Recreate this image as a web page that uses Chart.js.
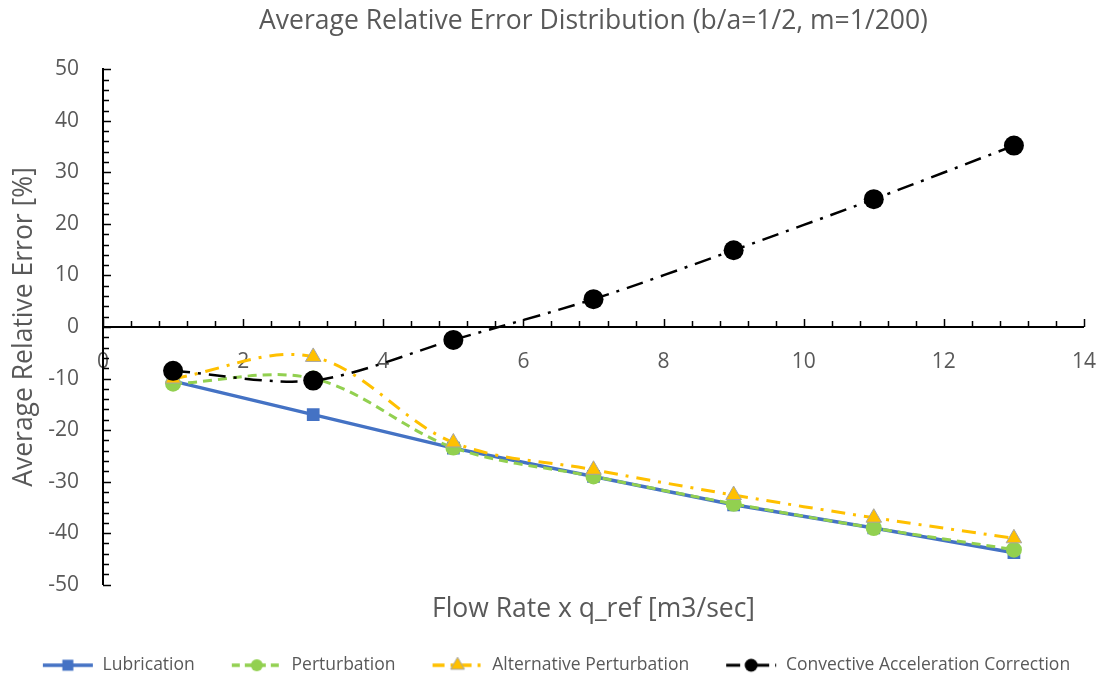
<!DOCTYPE html>
<html>
<head>
<meta charset="utf-8">
<script src="https://cdn.jsdelivr.net/npm/chart.js@4.4.1/dist/chart.umd.min.js"></script>
<style>
  html, body { margin: 0; padding: 0; background: #fff; }
  #chart { display: block; }
</style>
</head>
<body>
<canvas id="chart" width="1118" height="682"></canvas>
<script>
const flowRates = [1, 3, 5, 7, 9, 11, 13];
const lubrication = [-10.5, -17, -23.5, -29, -34.5, -39, -43.8];
const perturbation = [-11, -10, -23.4, -29, -34.3, -39, -43.2];
const altPerturbation = [-10, -5.8, -22.4, -27.7, -32.6, -37, -41];
const convective = [-8.5, -10.4, -2.5, 5.4, 14.9, 24.8, 35.2];

const xTicks = [0, 2, 4, 6, 8, 10, 12, 14];
const yTicks = [-50, -40, -30, -20, -10, 0, 10, 20, 30, 40, 50];

const textColor = "#595959";
const fontFamily = "'Open Sans', 'Noto Sans', sans-serif";

function toPoints(values) {
  return values.map((v, i) => ({ x: flowRates[i], y: v }));
}

// line + marker sample for the legend, with blank room on the left as item spacing
const sampleGap = 28;
function legendSample(color, dash, width, marker, radius, border) {
  const c = document.createElement("canvas");
  c.width = 52 + sampleGap;
  c.height = 22;
  const ctx = c.getContext("2d");
  const x0 = sampleGap;
  const cx = x0 + 26;
  ctx.strokeStyle = color;
  ctx.lineWidth = width;
  ctx.setLineDash(dash);
  ctx.beginPath();
  ctx.moveTo(x0 + 1, 11);
  ctx.lineTo(x0 + 51, 11);
  ctx.stroke();
  ctx.setLineDash([]);
  ctx.fillStyle = color;
  ctx.beginPath();
  if (marker === "rect") {
    ctx.rect(cx - radius, 11 - radius, radius * 2, radius * 2);
  } else if (marker === "triangle") {
    ctx.moveTo(cx, 11 - radius);
    ctx.lineTo(cx + radius * 0.87, 11 + radius * 0.5);
    ctx.lineTo(cx - radius * 0.87, 11 + radius * 0.5);
    ctx.closePath();
  } else {
    ctx.arc(cx, 11, radius, 0, Math.PI * 2);
  }
  ctx.fill();
  if (border) {
    ctx.strokeStyle = border;
    ctx.lineWidth = 1;
    ctx.stroke();
  }
  return c;
}

const samples = [
  legendSample("#4472C4", [], 3.5, "rect", 5.5),
  legendSample("#92D050", [8, 5], 3.5, "circle", 6),
  legendSample("#FFC000", [12, 6, 3, 6], 3.5, "triangle", 8, "#A5A5A5"),
  legendSample("#000000", [14, 6, 3, 6], 3, "circle", 6.5)
];

// Excel-style tick marks: pointing up from the x axis, right from the y axis
const tickMarks = {
  id: "tickMarks",
  afterDraw(chart) {
    const ctx = chart.ctx;
    const x = chart.scales.x;
    const y = chart.scales.y;
    const y0 = y.getPixelForValue(0);
    const xLeft = x.getPixelForValue(0);
    ctx.save();
    ctx.strokeStyle = "#000";
    ctx.lineWidth = 1.5;
    ctx.beginPath();
    for (let i = 0; i <= 35; i++) {
      const px = Math.round(x.getPixelForValue(i * 0.4)) + 0.5;
      const len = i % 5 === 0 ? 8 : 6;
      ctx.moveTo(px, y0);
      ctx.lineTo(px, y0 - len);
    }
    for (let i = -25; i <= 25; i++) {
      const py = Math.round(y.getPixelForValue(i * 2)) + 0.5;
      const len = i % 5 === 0 ? 8 : 6;
      ctx.moveTo(xLeft, py);
      ctx.lineTo(xLeft + len, py);
    }
    ctx.stroke();
    ctx.restore();
  }
};

new Chart(document.getElementById("chart"), {
  type: "line",
  data: {
    datasets: [
      {
        label: "Lubrication",
        data: toPoints(lubrication),
        borderColor: "#4472C4",
        backgroundColor: "#4472C4",
        borderWidth: 3.5,
        pointStyle: "rect",
        pointRadius: 9,
        pointBorderWidth: 0,
        tension: 0,
        order: 4
      },
      {
        label: "Perturbation",
        data: toPoints(perturbation),
        borderColor: "#92D050",
        backgroundColor: "#92D050",
        borderWidth: 3,
        borderDash: [9, 6],
        pointStyle: "circle",
        pointRadius: 8,
        pointBorderWidth: 0,
        tension: 0.35,
        order: 3
      },
      {
        label: "Alternative Perturbation",
        data: toPoints(altPerturbation),
        borderColor: "#FFC000",
        backgroundColor: "#FFC000",
        borderWidth: 3,
        borderDash: [14, 8, 3, 8],
        pointStyle: "triangle",
        pointRadius: 9,
        pointBorderColor: "#A5A5A5",
        pointBorderWidth: 1,
        tension: 0.35,
        order: 2
      },
      {
        label: "Convective Acceleration Correction",
        data: toPoints(convective),
        borderColor: "#000000",
        backgroundColor: "#000000",
        borderWidth: 2.5,
        borderDash: [17, 8, 3, 8],
        pointStyle: "circle",
        pointRadius: 10,
        pointBorderWidth: 0,
        tension: 0.3,
        order: 1
      }
    ]
  },
  options: {
    responsive: false,
    animation: false,
    layout: { padding: { left: 0, right: 34, top: 0, bottom: -2 } },
    plugins: {
      tooltip: { enabled: false },
      title: {
        display: true,
        fullSize: false,
        text: "Average Relative Error Distribution (b/a=1/2, m=1/200)",
        color: textColor,
        font: { family: fontFamily, size: 26.5, weight: "normal" },
        padding: { top: 6, bottom: 31.5 }
      },
      legend: {
        position: "bottom",
        labels: {
          color: textColor,
          font: { family: fontFamily, size: 17.5 },
          usePointStyle: true,
          pointStyleWidth: 52 + sampleGap,
          padding: 8,
          sort: (a, b) => a.datasetIndex - b.datasetIndex,
          generateLabels(chart) {
            return chart.data.datasets.map((ds, i) => ({
              text: ds.label,
              datasetIndex: i,
              pointStyle: samples[i],
              fontColor: textColor,
              lineWidth: 0,
              hidden: false
            }));
          }
        }
      }
    },
    scales: {
      x: {
        type: "linear",
        min: 0,
        max: 14,
        position: { y: 0 },
        afterBuildTicks: scale => {
          scale.ticks = xTicks.map(v => ({ value: v }));
        },
        ticks: {
          color: textColor,
          font: { family: fontFamily, size: 21 },
          padding: 22
        },
        grid: { display: true, drawOnChartArea: false, drawTicks: false },
        border: { color: "#000", width: 2 }
      },
      xTitle: {
        type: "linear",
        axis: "x",
        position: "bottom",
        min: 0,
        max: 14,
        ticks: { display: false },
        grid: { display: false },
        border: { display: false },
        title: {
          display: true,
          text: "Flow Rate x q_ref [m3/sec]",
          color: textColor,
          font: { family: fontFamily, size: 26.5 },
          padding: { top: 1, bottom: 23 }
        }
      },
      y: {
        min: -50,
        max: 50,
        afterBuildTicks: scale => {
          scale.ticks = yTicks.map(v => ({ value: v }));
        },
        afterFit: scale => {
          scale.width = 103;
        },
        ticks: {
          color: textColor,
          font: { family: fontFamily, size: 21 },
          padding: 24
        },
        grid: { display: true, drawOnChartArea: false, drawTicks: false },
        border: { color: "#000", width: 2 },
        title: {
          display: true,
          text: "Average Relative Error [%]",
          color: textColor,
          font: { family: fontFamily, size: 26.5 },
          padding: { top: 9, bottom: 0 }
        }
      }
    }
  },
  plugins: [tickMarks]
});
</script>
</body>
</html>
